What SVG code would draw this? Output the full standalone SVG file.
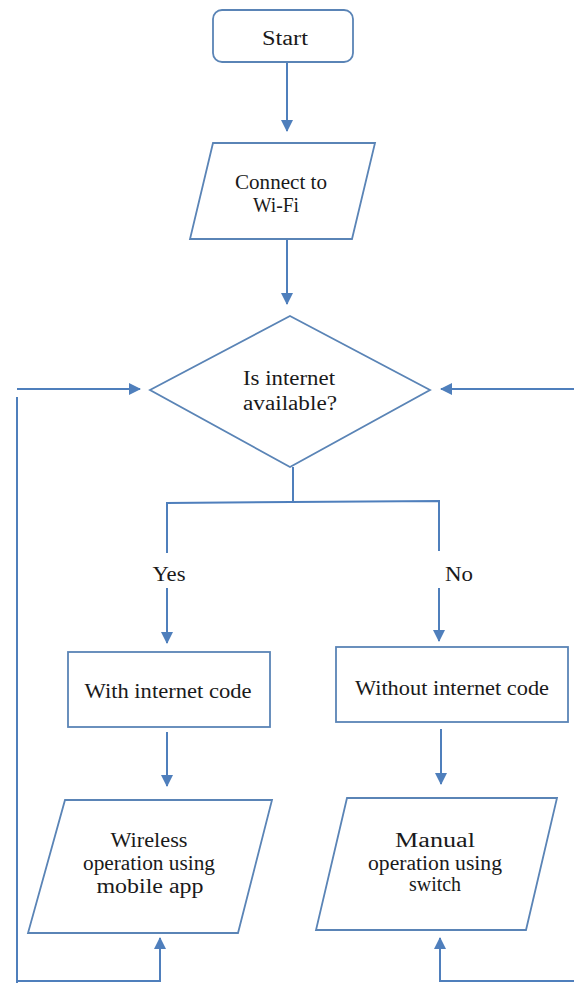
<svg xmlns="http://www.w3.org/2000/svg" width="574" height="983" viewBox="0 0 574 983">
<style>
.shape{fill:#fff;stroke:#5a84b6;stroke-width:1.8}
.ln{fill:none;stroke:#4f7fbc;stroke-width:2}
.t{font-size:20px;fill:#1a1a1a;text-anchor:middle}
</style>
<defs>
<marker id="ah" markerWidth="12" markerHeight="12" refX="11" refY="6" orient="auto" markerUnits="userSpaceOnUse">
<path d="M0,0 L12,6 L0,12 z" fill="#4f7fbc"/>
</marker>
</defs>
<rect width="574" height="983" fill="#fff"/>
<g id="connectors">
<line class="ln" x1="287" y1="63" x2="287" y2="131" marker-end="url(#ah)"/>
<line class="ln" x1="287" y1="240" x2="287" y2="304" marker-end="url(#ah)"/>
<polyline class="ln" points="293,467 293,502"/>
<polyline class="ln" points="167,553 167,503 439,501 439,551"/>
<line class="ln" x1="167" y1="588" x2="167" y2="643" marker-end="url(#ah)"/>
<line class="ln" x1="439" y1="588" x2="439" y2="641" marker-end="url(#ah)"/>
<line class="ln" x1="167" y1="732" x2="167" y2="786" marker-end="url(#ah)"/>
<line class="ln" x1="441" y1="729" x2="441" y2="784" marker-end="url(#ah)"/>
<polyline class="ln" points="17,983 17,397"/>
<line class="ln" x1="17" y1="389" x2="140" y2="389" marker-end="url(#ah)"/>
<line class="ln" x1="574" y1="389" x2="441" y2="389" marker-end="url(#ah)"/>
<polyline class="ln" points="16,981 160,981 160,938" marker-end="url(#ah)"/>
<polyline class="ln" points="574,981 440,981 440,938" marker-end="url(#ah)"/>
</g>
<g font-family="Liberation Serif, Times New Roman, DejaVu Serif, serif">
<g id="start">
<rect class="shape" x="213" y="10" width="140" height="52" rx="9"/>
<text class="t" x="285" y="45" textLength="46" lengthAdjust="spacingAndGlyphs">Start</text>
</g>
<g id="connect-wifi">
<polygon class="shape" points="213,143 375,143 352,239 190,239"/>
<text class="t" x="281" y="189" textLength="92" lengthAdjust="spacingAndGlyphs">Connect to</text>
<text class="t" x="276" y="212" textLength="46" lengthAdjust="spacingAndGlyphs">Wi-Fi</text>
</g>
<g id="internet-available">
<polygon class="shape" points="290,316 430,390 290,467 150,390"/>
<text class="t" x="289" y="385" textLength="92" lengthAdjust="spacingAndGlyphs">Is internet</text>
<text class="t" x="290" y="410" textLength="94" lengthAdjust="spacingAndGlyphs">available?</text>
</g>
<g id="label-yes"><text class="t" x="169" y="581" textLength="33" lengthAdjust="spacingAndGlyphs">Yes</text></g>
<g id="label-no"><text class="t" x="459" y="581" textLength="28" lengthAdjust="spacingAndGlyphs">No</text></g>
<g id="with-internet">
<rect class="shape" x="68" y="652" width="202" height="75"/>
<text class="t" x="168" y="698" textLength="167" lengthAdjust="spacingAndGlyphs">With internet code</text>
</g>
<g id="without-internet">
<rect class="shape" x="336" y="647" width="232" height="75"/>
<text class="t" x="452" y="695" textLength="194" lengthAdjust="spacingAndGlyphs">Without internet code</text>
</g>
<g id="wireless">
<polygon class="shape" points="65,800 272,800 238,933 28,933"/>
<text class="t" x="149" y="847" textLength="77" lengthAdjust="spacingAndGlyphs">Wireless</text>
<text class="t" x="149" y="870" textLength="132" lengthAdjust="spacingAndGlyphs">operation using</text>
<text class="t" x="150" y="893" textLength="107" lengthAdjust="spacingAndGlyphs">mobile app</text>
</g>
<g id="manual">
<polygon class="shape" points="347,798 557,798 526,930 316,930"/>
<text class="t" x="435" y="847" textLength="80" lengthAdjust="spacingAndGlyphs">Manual</text>
<text class="t" x="435" y="870" textLength="134" lengthAdjust="spacingAndGlyphs">operation using</text>
<text class="t" x="435" y="891" textLength="52" lengthAdjust="spacingAndGlyphs">switch</text>
</g>
</g>
</svg>
